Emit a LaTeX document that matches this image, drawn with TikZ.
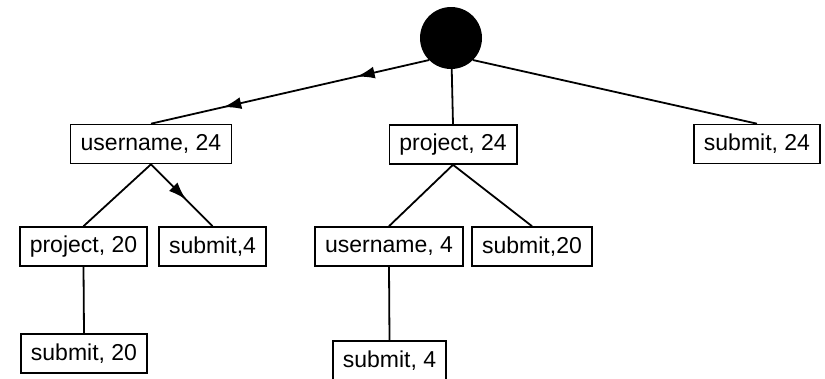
\documentclass[tikz,border=0pt]{standalone}
\usepackage{fontspec}
\setmainfont{Liberation Sans}
\usetikzlibrary{arrows.meta,decorations.markings}

\tikzset{
    keybox/.style={draw, line width=1.6pt, font=\fontsize{23}{26}\selectfont, inner xsep=10pt, inner ysep=0pt, minimum height=39pt},
    edge/.style={line width=1.8pt},
    midarrow/.style={edge, postaction={decorate}, decoration={markings,
        mark=at position #1 with {\arrow{Latex[length=18pt,width=12pt]}}}},
    twoarrows/.style={edge, postaction={decorate}, decoration={markings,
        mark=at position 0.26 with {\arrow{Latex[length=18pt,width=12pt]}},
        mark=at position 0.74 with {\arrow{Latex[length=18pt,width=12pt]}}}}
}

\begin{document}
\begin{tikzpicture}[x=1pt, y=-1pt]

\useasboundingbox (0,0) rectangle (825,378);

% root
\node[circle, fill=black, minimum size=62pt, inner sep=0pt] (root) at (451,38) {};

% first level
\node[keybox] (u24) at (151,144) {username, 24};
\node[keybox] (p24) at (453,144.5) {project, 24};
\node[keybox] (s24) at (757,144) {submit, 24};

% second level
\node[keybox] (p20) at (83.5,246.5) {project, 20};
\node[keybox] (s4a) at (212.5,246.5) {submit,4};
\node[keybox] (u4) at (389,246.5) {username, 4};
\node[keybox] (s20a) at (532,246.5) {submit,20};

% third level
\node[keybox] (s20b) at (84,353.5) {submit, 20};
\node[keybox] (s4b) at (389.5,360.5) {submit, 4};

% edges
\draw[twoarrows] (root.225) -- (u24.north);
\draw[edge] (root) -- (p24.north);
\draw[edge] (root.-45) -- (s24.north);

\draw[edge] (u24.south) -- (p20.north);
\draw[midarrow=0.57] (u24.south) -- (s4a.north);

\foreach \child in {u4, s20a} {
    \draw[edge] (p24.south) -- (\child.north);
}

\draw[edge] (p20.south) -- (s20b.north);
\draw[edge] (u4.south) -- (s4b.north);

\end{tikzpicture}
\end{document}
